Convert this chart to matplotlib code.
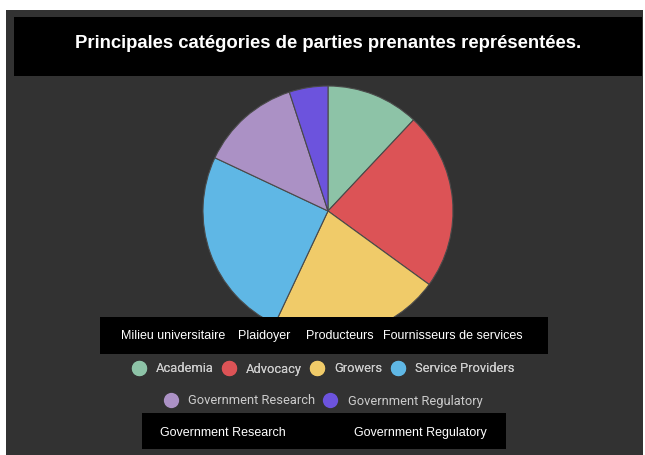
import matplotlib.pyplot as plt
from matplotlib.patches import Rectangle
from matplotlib.lines import Line2D

# données (%)
categories = ["Academia", "Advocacy", "Growers", "Service Providers",
              "Government Research", "Government Regulatory"]
shares = [12, 23, 22, 25, 13, 5]
colors = ["#8dc3a7", "#dc5356", "#f0cb69", "#5fb7e5", "#ab91c5", "#6c53dd"]

title = "Principales catégories de parties prenantes représentées."
fr_labels_top = ["Milieu universitaire", "Plaidoyer", "Producteurs",
                 "Fournisseurs de services"]
fr_labels_bottom = ["Government Research", "Government Regulatory"]

W, H = 645, 455
fig = plt.figure(figsize=(W / 100, H / 100), dpi=100)
fig.patch.set_facecolor("white")


def px_rect(x0, y0, x1, y1, color, z=1):
    # rectangle en pixels (origine en haut à gauche)
    r = Rectangle((x0 / W, 1 - y1 / H), (x1 - x0) / W, (y1 - y0) / H,
                  transform=fig.transFigure, facecolor=color,
                  edgecolor="none", zorder=z)
    fig.add_artist(r)


def px_text(x, y, s, **kw):
    fig.text(x / W, 1 - y / H, s, ha="center", va="center", **kw)


# fond sombre
bg = Rectangle((6 / W, 0), (643 - 6) / W, 1 - 10 / H, transform=fig.transFigure,
               facecolor="#323232", edgecolor="none", zorder=-5)
fig.add_artist(bg)

# camembert
cx, cy, r = 328, 211, 125
ax = fig.add_axes([(cx - r) / W, 1 - (cy + r) / H, 2 * r / W, 2 * r / H])
ax.set_zorder(0)
ax.pie(shares, colors=colors, startangle=90, counterclock=False,
       wedgeprops={"edgecolor": "#4a4a4a", "linewidth": 0.8})
ax.set_xlim(-1, 1)
ax.set_ylim(-1, 1)
ax.set_aspect("equal")
ax.axis("off")

# titre
px_rect(14, 17, 642, 76, "black", z=2)
px_text(328, 44, title, color="white", fontsize=13.3, fontweight="bold",
        family="Liberation Sans", zorder=3)

# étiquettes françaises (boîte du haut)
px_rect(100, 317, 548, 354, "black", z=2)
for x, s in zip([173, 264, 340, 453], fr_labels_top):
    px_text(x, 336, s, color="white", fontsize=9, family="Liberation Sans", zorder=3)

# légende
handles = [Line2D([], [], marker="o", linestyle="none", markersize=11,
                  markerfacecolor=c, markeredgecolor="none") for c in colors]
leg_kw = dict(loc="center", frameon=False, handlelength=1.1,
              handletextpad=0.8, columnspacing=0.6,
              prop={"family": "Roboto", "size": 9.3}, labelcolor="#cccccc")
leg1 = fig.legend(handles[:4], categories[:4], ncol=4,
                  bbox_to_anchor=(323 / W, 1 - 369 / H), **leg_kw)
leg2 = fig.legend(handles[4:], categories[4:], ncol=2,
                  bbox_to_anchor=(323 / W, 1 - 401 / H), **leg_kw)
fig.add_artist(leg1)

# boîte du bas
px_rect(142, 413, 506, 449, "black", z=2)
for x, s in zip([223, 420], fr_labels_bottom):
    px_text(x, 433, s, color="white", fontsize=9, family="Liberation Sans", zorder=3)

fig.savefig("out.png", dpi=100, facecolor=fig.get_facecolor())
